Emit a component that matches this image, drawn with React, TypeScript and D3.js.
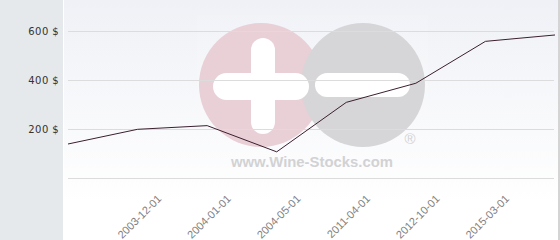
import React from 'react';
import * as d3 from 'd3';

const categories = ['2003-06-01', '2003-12-01', '2004-01-01', '2004-05-01', '2011-04-01', '2012-10-01', '2015-03-01', '2016-01-01'];
const showLabel = [false, true, true, true, true, true, true, false];
const prices = [140, 200, 215, 108, 310, 388, 559, 585];
const yTicks = [0, 200, 400, 600];
const yLabelTicks = [200, 400, 600];

const W = 560, H = 240;

export default function App() {
  const x = d3.scalePoint<string>().domain(categories).range([68, 555]);
  const y = d3.scaleLinear().domain([0, 600]).range([178.3, 31.3]);
  const line = d3.line<number>()
    .x((_, i) => x(categories[i]) as number)
    .y((d) => y(d));

  return (
    <svg width={W} height={H} style={{ position: 'absolute', left: 0, top: 0, display: 'block' }}
      fontFamily="'Liberation Sans', Arial, sans-serif">
      <defs>
        <linearGradient id="bg" x1="0" y1="0" x2="0" y2="1">
          <stop offset="0" stopColor="#eff1f6" />
          <stop offset="0.85" stopColor="#ffffff" />
          <stop offset="1" stopColor="#ffffff" />
        </linearGradient>
      </defs>
      <rect x={0} y={0} width={W} height={H} fill="#ffffff" />
      <rect x={0} y={0} width={63} height={H} fill="#e5e9ec" />
      <rect x={64} y={0} width={494} height={H} fill="url(#bg)" />
      <line x1={559} x2={559} y1={0} y2={H} stroke="#a9a9a9" strokeWidth={1} />

      {/* watermark */}
      <g>
        <rect x={197} y={15} width={231} height={160} fill="#ffffff" opacity={0.12} />
        <circle cx={261} cy={85} r={62} fill="#e9cfd6" />
        <circle cx={363} cy={85} r={62} fill="#d6d6d8" />
        <rect x={213} y={73} width={96} height={27} rx={13.5} fill="#ffffff" />
        <rect x={251} y={38} width={24} height={96} rx={12} fill="#ffffff" />
        <rect x={315} y={73} width={95} height={24} rx={12} fill="#ffffff" />
        <text x={231} y={167} fontSize={15} fontWeight="bold" fill="#d2d2d4" textLength={162} lengthAdjust="spacingAndGlyphs">www.Wine-Stocks.com</text>
        <text x={410} y={144} fontSize={15} fill="#d2d2d4" textAnchor="middle">®</text>
      </g>

      {yTicks.map((t) => (
        <line key={t} x1={68} x2={554} y1={Math.round(y(t)) + 0.5} y2={Math.round(y(t)) + 0.5} stroke="#dcdcdc" strokeWidth={1} />
      ))}
      {yLabelTicks.map((t) => (
        <text key={t} x={59} y={y(t) + 3.5} fontSize={10} fill="#333333" textAnchor="end"
          fontFamily="'DejaVu Sans', sans-serif" letterSpacing={0.4}>{t} $</text>
      ))}

      <path d={line(prices) || ''} fill="none" stroke="#3b1f2f" strokeWidth={1} />

      {categories.map((c, i) => showLabel[i] ? (
        <text key={c} transform={`translate(${(x(c) as number) + 24.5},${199.5}) rotate(-45)`}
          fontSize={11} fill="#808080" textAnchor="end">{c}</text>
      ) : null)}
    </svg>
  );
}
